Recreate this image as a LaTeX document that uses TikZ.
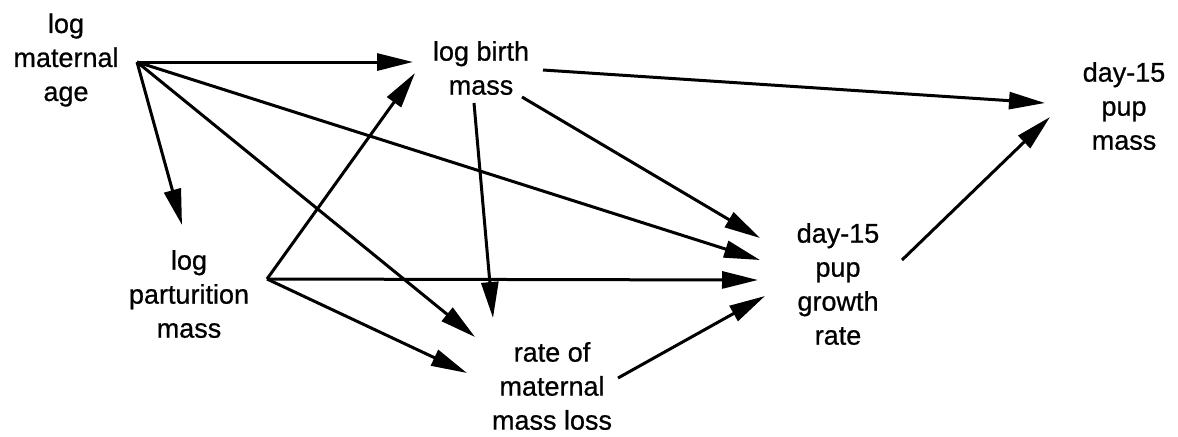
\documentclass[tikz,border=0pt]{standalone}
\usepackage{fontspec}
\setmainfont{Liberation Sans}[FakeBold=0.7]
\usetikzlibrary{arrows.meta}
\tikzset{
  lbl/.style={align=center, inner sep=0pt, font=\fontsize{13.5}{17}\selectfont},
  link/.style={line width=1.5pt, -{Triangle[length=18pt, width=8.5pt]}}
}
\begin{document}
\begin{tikzpicture}[x=0.5pt, y=-0.5pt]
\useasboundingbox (0,0) rectangle (1178,436);
% nodes
\node[lbl] (A) at (66,60) {log\\maternal\\age};
\node[lbl] (B) at (481,68) {log birth\\mass};
\node[lbl] (C) at (189,294) {log\\parturition\\mass};
\node[lbl] (E) at (552,386) {rate of\\maternal\\mass loss};
\node[lbl] (D) at (838,284) {day-15\\pup\\growth\\rate};
\node[lbl] (F) at (1124,106) {day-15\\pup\\mass};
% ports
\coordinate (A-o) at (137,62);
\coordinate (C-o) at (267,279);
\coordinate (C-i) at (182,225);
\coordinate (B-i1) at (413,62);
\coordinate (B-i2) at (415,73);
\coordinate (B-o1) at (543,70);
\coordinate (B-o2) at (522,97);
\coordinate (B-o3) at (474,103);
\coordinate (D-i1) at (760,238);
\coordinate (D-i2) at (760,260);
\coordinate (D-i3) at (758,280);
\coordinate (D-i4) at (765,296);
\coordinate (D-o) at (902,260);
\coordinate (F-i1) at (1045,103);
\coordinate (F-i2) at (1050,117);
\coordinate (E-i1) at (493,318);
\coordinate (E-i2) at (475,337);
\coordinate (E-i3) at (467,373);
\coordinate (E-o) at (618,378);
% connectors
\draw[link] (A-o) -- (B-i1);
\draw[link] (A-o) -- (C-i);
\draw[link] (A-o) -- (E-i2);
\draw[link] (A-o) -- (D-i2);
\draw[link] (C-o) -- (B-i2);
\draw[link] (C-o) -- (D-i3);
\draw[link] (C-o) -- (E-i3);
\draw[link] (B-o1) -- (F-i1);
\draw[link] (B-o2) -- (D-i1);
\draw[link] (B-o3) -- (E-i1);
\draw[link] (E-o) -- (D-i4);
\draw[link] (D-o) -- (F-i2);
\end{tikzpicture}
\end{document}
